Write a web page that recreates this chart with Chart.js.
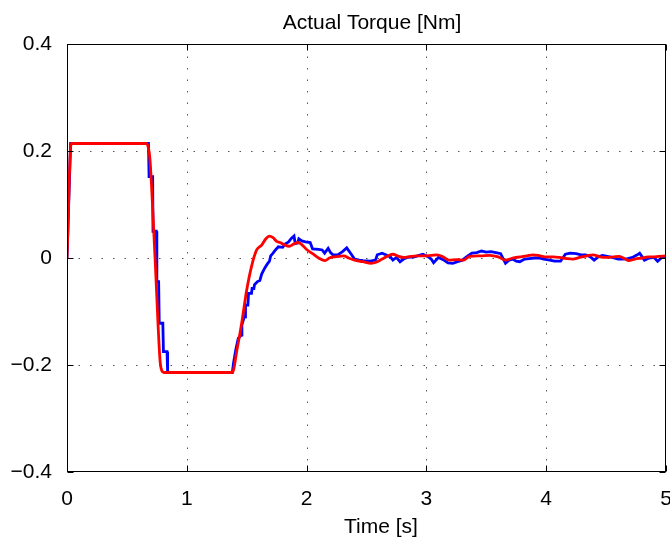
<!DOCTYPE html>
<html>
<head>
<meta charset="utf-8">
<script src="https://cdn.jsdelivr.net/npm/chart.js@4/dist/chart.umd.min.js"></script>
<style>
  html, body { margin: 0; padding: 0; background: #fff; }
  canvas { display: block; }
</style>
</head>
<body>
<canvas id="c" width="670" height="539"></canvas>
<script>
// ---- data ----
const chartTitle = 'Actual Torque [Nm]';
const xTitle = 'Time [s]';
const xTicks = [0, 1, 2, 3, 4, 5];
const yTicks = [-0.4, -0.2, 0, 0.2, 0.4];

// measured torque (blue)
const blueTime = [0, 0.008, 0.03, 0.68, 0.685, 0.715, 0.718, 0.745, 0.75, 0.765, 0.77, 0.80, 0.805, 0.835, 0.84, 1.38, 1.39, 1.41, 1.43, 1.455, 1.46, 1.48, 1.487, 1.49, 1.51, 1.515, 1.54, 1.545, 1.56, 1.565, 1.59, 1.61, 1.625, 1.65, 1.67, 1.69, 1.70, 1.72, 1.74, 1.764, 1.80, 1.82, 1.85, 1.87, 1.895, 1.905, 1.925, 1.935, 1.96, 1.99, 2.03, 2.05, 2.10, 2.13, 2.15, 2.18, 2.20, 2.22, 2.26, 2.30, 2.335, 2.37, 2.40, 2.44, 2.47, 2.53, 2.575, 2.59, 2.63, 2.67, 2.70, 2.72, 2.75, 2.78, 2.81, 2.84, 2.90, 2.94, 2.97, 3.01, 3.04, 3.06, 3.10, 3.14, 3.18, 3.22, 3.26, 3.30, 3.34, 3.38, 3.42, 3.46, 3.50, 3.54, 3.58, 3.62, 3.66, 3.69, 3.72, 3.75, 3.78, 3.82, 3.86, 3.90, 3.94, 3.98, 4.03, 4.07, 4.12, 4.16, 4.20, 4.25, 4.29, 4.33, 4.37, 4.40, 4.44, 4.47, 4.51, 4.55, 4.60, 4.64, 4.68, 4.72, 4.76, 4.78, 4.82, 4.86, 4.90, 4.93, 4.97, 5.0];
const blueTorque = [0, 0.0, 0.214, 0.214, 0.152, 0.152, 0.05, 0.05, -0.044, -0.044, -0.122, -0.122, -0.175, -0.175, -0.214, -0.214, -0.196, -0.17, -0.15, -0.144, -0.125, -0.11, -0.11, -0.088, -0.088, -0.066, -0.066, -0.057, -0.057, -0.05, -0.044, -0.042, -0.03, -0.019, -0.012, -0.006, 0.004, 0.009, 0.015, 0.021, 0.02, 0.026, 0.03, 0.036, 0.041, 0.027, 0.028, 0.036, 0.032, 0.03, 0.029, 0.017, 0.016, 0.015, 0.009, 0.018, 0.01, 0.006, 0.006, 0.012, 0.019, 0.008, -0.002, -0.004, -0.005, -0.006, -0.004, 0.006, 0.009, 0.005, 0.002, -0.004, 0.001, -0.007, -0.002, 0.001, 0.002, 0.005, 0.007, 0.003, -0.002, -0.009, 0.001, -0.003, -0.009, -0.01, -0.007, -0.004, 0.003, 0.009, 0.01, 0.013, 0.011, 0.012, 0.01, 0.008, -0.01, -0.004, -0.002, -0.006, -0.007, -0.002, -0.001, 0.0, 0.0, -0.002, -0.004, -0.006, -0.006, 0.007, 0.009, 0.008, 0.006, 0.006, 0.002, -0.004, 0.003, 0.005, 0.003, 0.001, -0.002, -0.002, -0.001, 0.001, 0.006, 0.009, -0.004, 0.0, 0.001, -0.006, 0.002, 0.001];

// reference / model torque (red)
const redTime = [0, 0.035, 0.665, 0.68, 0.693, 0.735, 0.776, 0.79, 0.81, 1.38, 1.42, 1.458, 1.50, 1.54, 1.583, 1.625, 1.66, 1.689, 1.72, 1.75, 1.778, 1.82, 1.856, 1.89, 1.93, 1.96, 2.0, 2.05, 2.10, 2.154, 2.19, 2.22, 2.27, 2.31, 2.35, 2.40, 2.47, 2.54, 2.58, 2.63, 2.68, 2.72, 2.77, 2.81, 2.87, 2.92, 2.98, 3.04, 3.09, 3.14, 3.19, 3.25, 3.31, 3.36, 3.45, 3.53, 3.60, 3.66, 3.72, 3.78, 3.84, 3.89, 3.95, 4.0, 4.06, 4.11, 4.17, 4.22, 4.28, 4.34, 4.39, 4.45, 4.5, 4.56, 4.61, 4.66, 4.69, 4.74, 4.8, 4.85, 4.89, 4.94, 5.0];
const redTorque = [0, 0.214, 0.214, 0.205, 0.183, 0.0, -0.19, -0.21, -0.214, -0.214, -0.17, -0.122, -0.06, -0.016, 0.015, 0.024, 0.036, 0.041, 0.038, 0.031, 0.029, 0.024, 0.022, 0.026, 0.029, 0.025, 0.016, 0.008, 0.0, -0.005, 0.0, 0.002, 0.003, 0.004, 0.0, -0.004, -0.007, -0.01, -0.008, -0.002, 0.004, 0.007, 0.003, 0.001, 0.003, 0.004, 0.004, 0.005, 0.006, 0.002, -0.004, -0.003, -0.004, 0.003, 0.004, 0.005, 0.002, -0.004, 0.0, 0.002, 0.004, 0.006, 0.004, 0.002, 0.002, 0.001, -0.001, -0.002, 0.001, 0.004, 0.006, 0.002, 0.001, 0.002, 0.003, -0.002, -0.005, -0.002, 0.0, 0.002, 0.002, 0.003, 0.004];

const FONT = '"Liberation Sans", Arial, Helvetica, sans-serif';
const FONT_SIZE = 21;

const toPts = (xs, ys) => xs.map((x, i) => ({ x: x, y: ys[i] }));

// box, dotted grid, inward tick marks and titles, derived from the scales
const frame = {
  id: 'frame',
  beforeDatasetsDraw(chart) {
    const { ctx, chartArea: a, scales: { x, y } } = chart;
    ctx.save();
    ctx.strokeStyle = '#555';
    ctx.lineWidth = 1;
    ctx.setLineDash([1.5, 10]);
    xTicks.forEach(v => {
      if (v === x.min || v === x.max) return;
      const px = Math.round(x.getPixelForValue(v)) + 0.5;
      ctx.beginPath(); ctx.moveTo(px, a.bottom); ctx.lineTo(px, a.top); ctx.stroke();
    });
    yTicks.forEach(v => {
      if (v === y.min || v === y.max) return;
      const py = Math.round(y.getPixelForValue(v)) + 0.5;
      ctx.beginPath(); ctx.moveTo(a.left, py); ctx.lineTo(a.right, py); ctx.stroke();
    });
    ctx.restore();
  },
  afterDatasetsDraw(chart) {
    const { ctx, chartArea: a, scales: { x, y } } = chart;
    ctx.save();
    ctx.strokeStyle = '#000';
    ctx.lineWidth = 1;
    const L = Math.round(a.left) + 0.5, R = Math.round(a.right) - 0.5;
    const T = Math.round(a.top) + 0.5, B = Math.round(a.bottom) - 0.5;
    ctx.strokeRect(L, T, R - L, B - T);
    const tl = 6;
    ctx.beginPath();
    xTicks.forEach(v => {
      const px = Math.round(x.getPixelForValue(v)) + 0.5;
      ctx.moveTo(px, B); ctx.lineTo(px, B - tl);
      ctx.moveTo(px, T); ctx.lineTo(px, T + tl);
    });
    yTicks.forEach(v => {
      const py = Math.round(y.getPixelForValue(v)) + 0.5;
      ctx.moveTo(L, py); ctx.lineTo(L + tl, py);
      ctx.moveTo(R, py); ctx.lineTo(R - tl, py);
    });
    ctx.stroke();
    // titles
    const cx = (a.left + a.right) / 2;
    ctx.fillStyle = '#000';
    ctx.font = FONT_SIZE + 'px ' + FONT;
    ctx.textAlign = 'center';
    ctx.textBaseline = 'alphabetic';
    ctx.fillText(chartTitle, cx + 5.5, a.top - 15.5);
    ctx.fillText(xTitle, cx + 14.5, a.bottom + 61);
    ctx.restore();
  }
};

new Chart(document.getElementById('c'), {
  type: 'line',
  data: {
    datasets: [
      {
        label: 'measured',
        data: toPts(blueTime, blueTorque),
        borderColor: '#0000ff',
        borderWidth: 2.8,
        pointRadius: 0,
        tension: 0,
        order: 2,
        fill: false
      },
      {
        label: 'model',
        data: toPts(redTime, redTorque),
        borderColor: '#ff0000',
        borderWidth: 2.8,
        pointRadius: 0,
        cubicInterpolationMode: 'monotone',
        order: 1,
        fill: false
      }
    ]
  },
  options: {
    responsive: false,
    animation: false,
    events: [],
    layout: { padding: { left: 0, right: 4, top: 44, bottom: 0 } },
    plugins: {
      legend: { display: false },
      tooltip: { enabled: false },
      title: { display: false }
    },
    scales: {
      x: {
        type: 'linear',
        min: 0, max: 5,
        afterBuildTicks: s => { s.ticks = xTicks.map(v => ({ value: v })); },
        afterFit: s => { s.height = 67; s.paddingLeft = 0; s.paddingRight = 0; },
        grid: { display: false, drawTicks: false },
        border: { display: false },
        ticks: {
          color: '#000',
          font: { family: FONT, size: FONT_SIZE },
          padding: 15,
          maxRotation: 0,
          autoSkip: false,
          callback: v => String(v)
        }
      },
      y: {
        type: 'linear',
        min: -0.4, max: 0.4,
        afterBuildTicks: s => { s.ticks = yTicks.map(v => ({ value: v })); },
        afterFit: s => { s.width = 67; s.paddingTop = 0; s.paddingBottom = 0; },
        grid: { display: false, drawTicks: false },
        border: { display: false },
        ticks: {
          color: '#000',
          font: { family: FONT, size: FONT_SIZE },
          padding: 15,
          autoSkip: false,
          callback: v => Math.abs(v) < 1e-9 ? '0' : (v < 0 ? '\u2212' : '') + Math.abs(v).toFixed(1)
        }
      }
    }
  },
  plugins: [frame]
});
</script>
</body>
</html>
